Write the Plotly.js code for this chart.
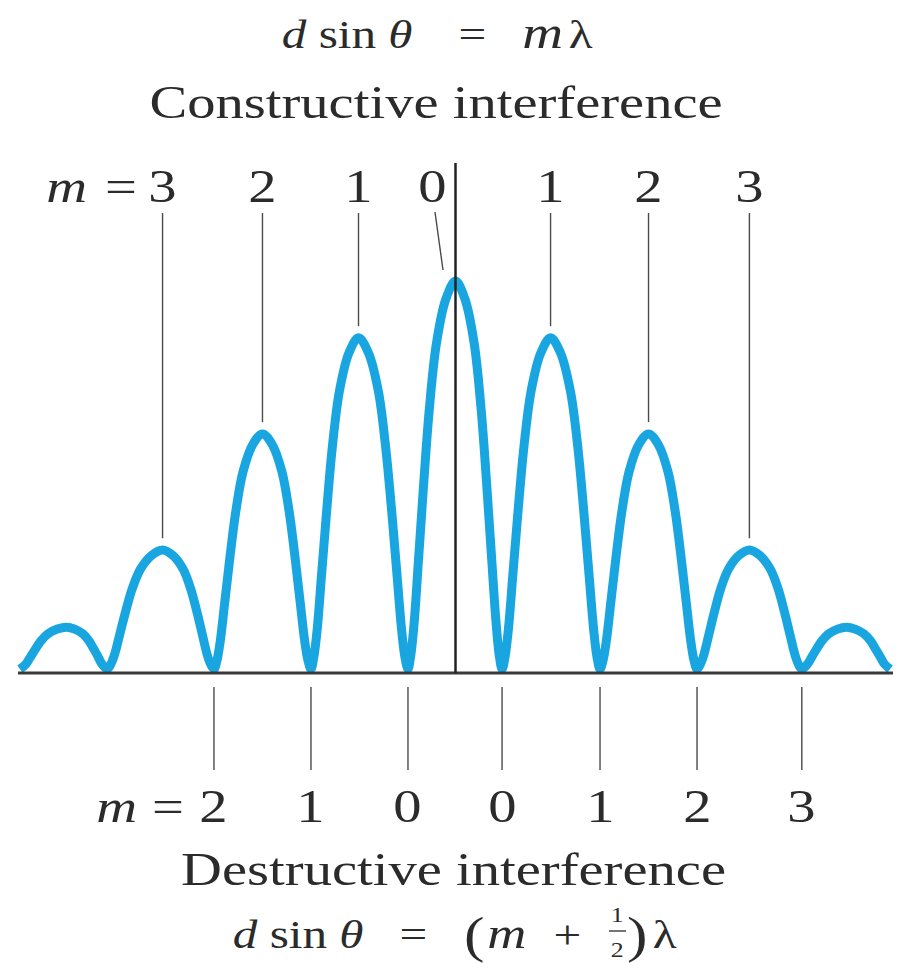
<!DOCTYPE html>
<html>
<head>
<meta charset="utf-8">
<script src="https://cdn.plot.ly/plotly-3.0.1.min.js"></script>
<style>
  html, body { margin: 0; padding: 0; background: #ffffff; }
  #chart { width: 901px; height: 963px; }
</style>
</head>
<body>
<div id="chart"></div>
<script>
// Two-slit intensity pattern sampled along the fringe-order axis (x in units of d sinθ / λ,
// y = relative intensity, central maximum = 1).
const curveX = [
  -4.490,
  -4.428, -4.384, -4.336, -4.274, -4.202, -4.106, -4.010,
  -3.926, -3.842, -3.779, -3.724, -3.682, -3.645, -3.590,
  -3.556, -3.516, -3.465, -3.408, -3.334, -3.248, -3.134, -3.020,
  -2.914, -2.808, -2.729, -2.660, -2.607, -2.559, -2.522, -2.490,
  -2.460, -2.425, -2.380, -2.330, -2.265, -2.190, -2.090, -1.990,
  -1.890, -1.790, -1.715, -1.650, -1.600, -1.555, -1.520, -1.490,
  -1.461, -1.426, -1.382, -1.333, -1.270, -1.196, -1.098, -1.000,
  -0.898, -0.796, -0.720, -0.653, -0.602, -0.556, -0.521, -0.490,
  -0.461, -0.426, -0.382, -0.333, -0.270, -0.196, -0.098, 0.000,
  0.096, 0.192, 0.264, 0.326, 0.374, 0.418, 0.451, 0.480,
  0.510, 0.545, 0.590, 0.640, 0.705, 0.780, 0.880, 0.980,
  1.082, 1.184, 1.261, 1.327, 1.378, 1.424, 1.459, 1.490,
  1.520, 1.555, 1.600, 1.650, 1.715, 1.790, 1.890, 1.990,
  2.090, 2.190, 2.265, 2.330, 2.380, 2.425, 2.460, 2.490,
  2.522, 2.560, 2.609, 2.663, 2.733, 2.814, 2.922, 3.030,
  3.138, 3.246, 3.327, 3.397, 3.451, 3.500, 3.538, 3.570,
  3.630, 3.671, 3.717, 3.777, 3.846, 3.938, 4.030,
  4.120, 4.210, 4.278, 4.336, 4.381, 4.422, 4.480
];
const curveY = [
  0.010,
  0.023, 0.040, 0.059, 0.082, 0.100, 0.112, 0.117,
  0.112, 0.100, 0.082, 0.059, 0.040, 0.023, 0.010,
  0.021, 0.046, 0.095, 0.150, 0.214, 0.265, 0.300, 0.314,
  0.300, 0.265, 0.214, 0.150, 0.095, 0.046, 0.021, 0.010,
  0.031, 0.082, 0.178, 0.286, 0.412, 0.514, 0.583, 0.610,
  0.583, 0.514, 0.412, 0.286, 0.178, 0.082, 0.031, 0.010,
  0.040, 0.111, 0.247, 0.399, 0.576, 0.720, 0.817, 0.855,
  0.817, 0.720, 0.576, 0.399, 0.247, 0.111, 0.040, 0.010,
  0.045, 0.129, 0.287, 0.465, 0.673, 0.842, 0.955, 1.000,
  0.955, 0.842, 0.673, 0.465, 0.287, 0.129, 0.045, 0.010,
  0.040, 0.111, 0.247, 0.399, 0.576, 0.720, 0.817, 0.855,
  0.817, 0.720, 0.576, 0.399, 0.247, 0.111, 0.040, 0.010,
  0.031, 0.082, 0.178, 0.286, 0.412, 0.514, 0.583, 0.610,
  0.583, 0.514, 0.412, 0.286, 0.178, 0.082, 0.031, 0.010,
  0.021, 0.046, 0.095, 0.150, 0.214, 0.265, 0.300, 0.314,
  0.300, 0.265, 0.214, 0.150, 0.095, 0.046, 0.021, 0.010,
  0.023, 0.040, 0.059, 0.082, 0.100, 0.112, 0.117,
  0.112, 0.100, 0.082, 0.059, 0.040, 0.023, 0.010
];

// Bright fringes (constructive interference), d sinθ = mλ
const brightX = [-3.02, -1.99, -1.00, 0.00, 0.98, 1.99, 3.03];
const brightY = [0.314, 0.610, 0.855, 1.000, 0.855, 0.610, 0.314];
const brightLabels = ['3', '2', '1', '0', '1', '2', '3'];

// Dark fringes (destructive interference), d sinθ = (m + ½)λ
const darkX = [-2.49, -1.49, -0.49, 0.48, 1.49, 2.49, 3.57];
const darkLabels = ['2', '1', '0', '0', '1', '2', '3'];

// ---- page geometry (pixels) ----
const W = 901, H = 963;
const X0 = 455.5, XS = 97;   // pixel of x = 0, pixels per fringe order
const Y0 = 673, YS = 392;    // pixel of the baseline, pixels per unit intensity
const dataY = p => (Y0 - p) / YS;      // pixel row -> y value
const dataX = p => (p - X0) / XS;      // pixel column -> x value

const FONT = '"Liberation Serif", "Times New Roman", serif';
const INK = '#2b2b2b';
const STRETCH = 1.23;        // horizontal widening of the lettering
const centerOf = (baseline, size) => baseline - 0.3375 * size;

const annotations = [];
function label(text, x, baseline, size, xref) {
  annotations.push({
    text: text,
    x: xref === 'x' ? x : dataX(x),
    y: dataY(centerOf(baseline, size)),
    xref: 'x', yref: 'y',
    xanchor: 'center', yanchor: 'middle',
    showarrow: false,
    font: { family: FONT, size: size, color: INK }
  });
}

// top equation and heading
label('<i>d</i> sin <i>θ</i>', 347, 48, 40);
label('=', 472, 48, 40);
label('<i>m</i>', 542, 48, 46);
label('λ', 581, 48, 40);
label('Constructive interference', 436, 118, 46);

// constructive orders
label('<i>m</i>', 66, 202, 46);
label('=', 121, 202, 46);
brightLabels.forEach((t, i) => {
  if (brightX[i] === 0) label(t, 432, 202, 46);
  else label(t, brightX[i], 202, 46, 'x');
});

// destructive orders
label('<i>m</i>', 116, 822, 46);
label('=', 168, 822, 46);
darkLabels.forEach((t, i) => label(t, darkX[i], 822, 46, 'x'));

label('Destructive interference', 453, 885, 46);

// bottom equation
label('<i>d</i> sin <i>θ</i>', 298, 948, 40);
label('=', 413, 948, 40);
label('(', 474, 952, 50);
label('<i>m</i>', 507, 948, 44);
label('+', 567, 948, 40);
label('1', 617, 922, 21);
label('2', 617, 957, 21);
label(')', 637, 952, 50);
label('λ', 665, 948, 40);

// ---- line work ----
const LINE = { color: '#4a4a4a', width: 1.4 };
const shapes = [];
const topOfLeaders = dataY(213);
brightX.forEach((x, i) => {
  if (x === 0) return;
  shapes.push({ type: 'line', xref: 'x', yref: 'y', x0: x, x1: x,
    y0: brightY[i] + 0.03, y1: topOfLeaders, line: LINE });
});
// slanted leader from the central "0"
shapes.push({ type: 'line', xref: 'x', yref: 'y',
  x0: dataX(435), y0: dataY(212), x1: dataX(443), y1: dataY(270), line: LINE });
darkX.forEach(x => {
  shapes.push({ type: 'line', xref: 'x', yref: 'y', x0: x, x1: x,
    y0: dataY(687), y1: dataY(770), line: LINE });
});
// fraction bar of the ½
shapes.push({ type: 'line', xref: 'x', yref: 'y',
  x0: dataX(609), x1: dataX(626), y0: dataY(931), y1: dataY(931),
  line: { color: INK, width: 1.3 } });
// baseline and central axis
shapes.push({ type: 'line', xref: 'x', yref: 'y', layer: 'above',
  x0: dataX(18), x1: dataX(893), y0: 0, y1: 0, line: { color: '#3a3a3a', width: 3 } });
shapes.push({ type: 'line', xref: 'x', yref: 'y', layer: 'above',
  x0: 0, x1: 0, y0: 0, y1: dataY(163), line: { color: '#222222', width: 2.5 } });

const data = [{
  type: 'scatter', mode: 'lines',
  x: curveX, y: curveY,
  line: { color: '#19a6e0', width: 9, shape: 'spline', smoothing: 1 },
  hoverinfo: 'skip'
}];

const layout = {
  width: W, height: H,
  margin: { l: 0, r: 0, t: 0, b: 0 },
  paper_bgcolor: '#ffffff', plot_bgcolor: '#ffffff',
  showlegend: false,
  xaxis: { range: [dataX(0), dataX(W)], visible: false, fixedrange: true },
  yaxis: { range: [dataY(H), dataY(0)], visible: false, fixedrange: true },
  shapes: shapes,
  annotations: annotations
};

Plotly.newPlot('chart', data, layout, { staticPlot: true, displayModeBar: false }).then(gd => {
  // widen each piece of lettering about its own centre
  gd.querySelectorAll('.annotation-text').forEach(t => {
    const b = t.getBBox();
    const cx = b.x + b.width / 2;
    t.setAttribute('transform',
      'translate(' + cx + ' 0) scale(' + STRETCH + ' 1) translate(' + (-cx) + ' 0)');
  });
});
</script>
</body>
</html>
